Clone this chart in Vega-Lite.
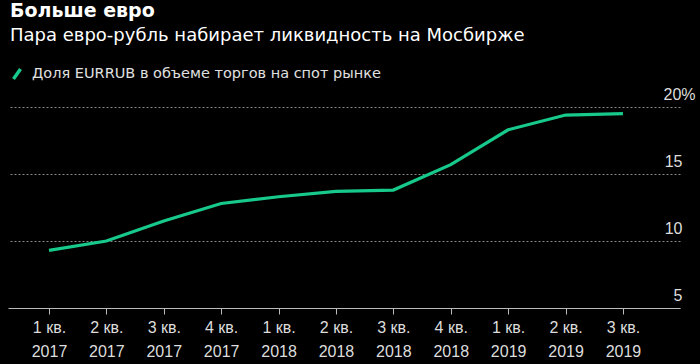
{
  "$schema": "https://vega.github.io/schema/vega-lite/v6.json",
  "width": 672,
  "height": 201,
  "autosize": {"type": "none"},
  "padding": {"left": 8, "top": 107, "right": 20, "bottom": 56},
  "background": "#000000",
  "config": {"view": {"stroke": null}, "font": "DejaVu Sans"},
  "title": {
    "text": "Больше евро",
    "subtitle": "Пара евро-рубль набирает ликвидность на Мосбирже",
    "anchor": "start",
    "frame": "group",
    "color": "#ffffff",
    "fontSize": 19,
    "fontWeight": "bold",
    "subtitleColor": "#ffffff",
    "subtitleFontSize": 18,
    "subtitlePadding": 6,
    "offset": 20,
    "dx": 2
  },
  "data": {
    "values": [
      {"quarter": "1 кв. 2017", "share": 9.3},
      {"quarter": "2 кв. 2017", "share": 10.0},
      {"quarter": "3 кв. 2017", "share": 11.5},
      {"quarter": "4 кв. 2017", "share": 12.8},
      {"quarter": "1 кв. 2018", "share": 13.3},
      {"quarter": "2 кв. 2018", "share": 13.7},
      {"quarter": "3 кв. 2018", "share": 13.8},
      {"quarter": "4 кв. 2018", "share": 15.7},
      {"quarter": "1 кв. 2019", "share": 18.3},
      {"quarter": "2 кв. 2019", "share": 19.4},
      {"quarter": "3 кв. 2019", "share": 19.5}
    ]
  },
  "mark": {"type": "line", "strokeWidth": 3.2},
  "encoding": {
    "x": {
      "field": "quarter",
      "type": "ordinal",
      "sort": null,
      "scale": {"type": "point", "padding": 0.854, "align": 0.418},
      "axis": {
        "title": null,
        "labelAngle": 0,
        "domainColor": "#bbbbbb",
        "tickColor": "#bbbbbb",
        "tickSize": 6,
        "labelColor": "#dddddd",
        "labelFont": "Liberation Sans",
        "labelFontSize": 16,
        "labelPadding": 5,
        "labelLineHeight": 24,
        "labelExpr": "[slice(datum.label, 0, 5), slice(datum.label, 6)]"
      }
    },
    "y": {
      "field": "share",
      "type": "quantitative",
      "scale": {"domain": [5, 20], "nice": false, "zero": false},
      "axis": {
        "title": null,
        "orient": "right",
        "values": [5, 10, 15, 20],
        "grid": true,
        "gridColor": "#888888",
        "gridDash": [2, 2],
        "gridWidth": 1,
        "domain": false,
        "ticks": false,
        "labelColor": "#dddddd",
        "labelFont": "Liberation Sans",
        "labelFontSize": 16,
        "labelAlign": {"condition": {"test": "datum.value == 20", "value": "left"}, "value": "right"},
        "labelPadding": {"condition": {"test": "datum.value == 20", "value": -17}, "value": 2},
        "labelBaseline": "alphabetic",
        "labelOffset": -8,
        "labelExpr": "datum.value == 20 ? '20%' : datum.label"
      }
    },
    "color": {
      "datum": "Доля EURRUB в объеме торгов на спот рынке",
      "type": "nominal",
      "scale": {"range": ["#17c98b"]},
      "legend": {
        "orient": "none",
        "legendX": 0,
        "legendY": -42,
        "title": null,
        "labelColor": "#e0e0e0",
        "labelFont": "DejaVu Sans",
        "labelFontSize": 14.5,
        "labelLimit": 0,
        "symbolType": "M-0.5,0.7L0.5,-0.7",
        "symbolStrokeWidth": 3.5,
        "symbolSize": 200,
        "labelOffset": 6
      }
    }
  }
}
